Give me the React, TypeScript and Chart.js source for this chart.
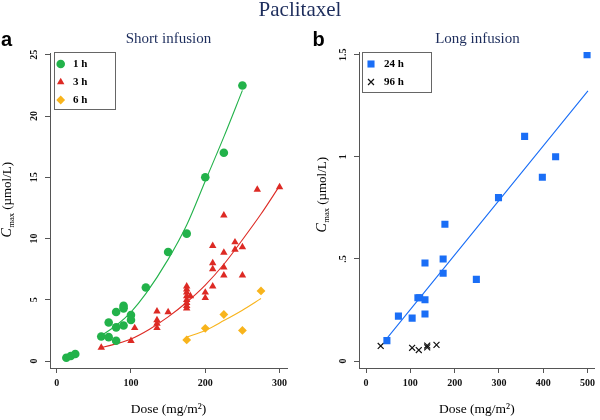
import React, { useEffect, useRef } from "react";
import { Chart, registerables } from "chart.js";
import { drawPoint } from "chart.js/helpers";
Chart.register(...registerables);

// ---------- text ----------
const mainTitle = "Paclitaxel";
const subtitleA = "Short infusion";
const subtitleB = "Long infusion";
const xTitle = "Dose (mg/m²)";

// ---------- panel a : short infusion ----------
const dose1h = [13, 19, 25, 60, 70, 70, 80, 80, 80, 90, 90, 90, 100, 100, 120, 150, 175, 200, 225, 250];
const cmax1h = [0.27, 0.41, 0.57, 2.0, 1.95, 3.15, 4.0, 2.75, 1.65, 4.5, 4.3, 2.9, 3.75, 3.35, 6.0, 8.9, 10.4, 15.0, 17.0, 22.5];

const dose3h = [60, 100, 105, 135, 135, 135, 135, 150, 175, 175, 175, 175, 175, 175, 175, 175, 180, 200, 200, 210, 210, 210, 210, 225, 225, 225, 225, 240, 240, 250, 250, 270, 300];
const cmax3h = [1.1, 1.65, 2.7, 4.05, 3.35, 3.05, 2.7, 4.0, 6.1, 5.85, 5.6, 5.3, 5.0, 4.75, 4.5, 4.3, 5.3, 5.6, 5.15, 9.4, 8.0, 7.5, 6.1, 11.9, 8.85, 7.65, 7.0, 9.7, 9.1, 9.3, 7.0, 14.0, 14.2];

const dose6h = [175, 200, 225, 250, 275];
const cmax6h = [1.72, 2.67, 3.8, 2.5, 5.72];

const fit1hDose = [58, 80, 100, 120, 150, 175, 200, 225, 250];
const fit1hCmax = [2.0, 2.9, 4.0, 5.5, 8.3, 11.1, 14.7, 18.3, 22.1];
const fit3hDose = [57, 80, 100, 125, 150, 175, 200, 225, 250, 275, 300];
const fit3hCmax = [1.05, 1.4, 1.8, 2.6, 3.6, 4.8, 6.2, 7.9, 9.9, 12.0, 14.3];
const fit6hDose = [175, 200, 225, 250, 275];
const fit6hCmax = [1.95, 2.5, 3.3, 4.15, 5.1];

const xTicksA = [0, 100, 200, 300];
const yTicksA = [0, 5, 10, 15, 20, 25];
const yTickLabelsA = ["0", "5", "10", "15", "20", "25"];

// ---------- panel b : long infusion ----------
const dose24h = [47, 73, 104, 117, 121, 133, 133, 133, 174, 174, 178, 249, 299, 358, 398, 428, 499];
const cmax24h = [0.10, 0.22, 0.21, 0.31, 0.31, 0.30, 0.23, 0.48, 0.50, 0.43, 0.67, 0.40, 0.80, 1.10, 0.90, 1.00, 1.50];
const dose96h = [33, 104, 119, 138, 138, 159];
const cmax96h = [0.074, 0.065, 0.054, 0.067, 0.076, 0.079];
const fit24hDose = [47, 501];
const fit24hCmax = [0.111, 1.323];

const xTicksB = [0, 100, 200, 300, 400, 500];
const yTicksB = [0, 0.5, 1, 1.5];
const yTickLabelsB = ["0", ".5", "1", "1.5"];

// ---------- styles ----------
const GREEN = "#22b24a";
const RED = "#dd2a24";
const ORANGE = "#f8b41c";
const BLUE = "#1a6ef6";
const NAVY = "#1d2d5c";
const AXIS = "#555555";
const SERIF = '"Liberation Serif", "Times New Roman", serif';
const SANS = '"Liberation Sans", Arial, sans-serif';

const pts = (xs: number[], ys: number[]) => xs.map((x, i) => ({ x, y: ys[i] }));

const decorPlugin = {
  id: "decor",
  afterDraw(chart: any, _args: any, opts: any) {
    const ctx = chart.ctx;
    // y axis title: C_max (µmol/L)
    ctx.save();
    ctx.translate(opts.yTitleX, opts.yTitleY);
    ctx.rotate(-Math.PI / 2);
    ctx.fillStyle = "#000";
    ctx.textAlign = "left";
    ctx.textBaseline = "alphabetic";
    const f1 = `italic 14px ${SERIF}`;
    const f2 = `8.5px ${SERIF}`;
    const f3 = `13px ${SERIF}`;
    ctx.font = f1;
    const w1 = ctx.measureText("C").width;
    ctx.font = f2;
    const w2 = ctx.measureText("max").width;
    ctx.font = f3;
    const t3 = " (µmol/L)";
    const w3 = ctx.measureText(t3).width;
    let x = -(w1 + w2 + w3) / 2;
    ctx.font = f1;
    ctx.fillText("C", x, 0);
    x += w1 + 0.5;
    ctx.font = f2;
    ctx.fillText("max", x, 3);
    x += w2;
    ctx.font = f3;
    ctx.fillText(t3, x, 0);
    ctx.restore();

    // legend box
    const lg = opts.legend;
    ctx.save();
    ctx.strokeStyle = "#666";
    ctx.lineWidth = 1;
    ctx.strokeRect(Math.round(lg.x) + 0.5, Math.round(lg.y) + 0.5, lg.w, lg.h);
    lg.items.forEach((it: any, i: number) => {
      const cy = lg.y + lg.firstDy + i * lg.rowH;
      ctx.fillStyle = it.color;
      ctx.strokeStyle = it.color;
      ctx.lineWidth = it.lw || 0;
      drawPoint(ctx, { pointStyle: it.style, radius: it.radius, borderWidth: it.lw || 0, rotation: 0 } as any, lg.x + lg.markerDx, cy);
      ctx.fillStyle = "#000";
      ctx.font = `bold 11px ${SERIF}`;
      ctx.textAlign = "left";
      ctx.textBaseline = "middle";
      ctx.fillText(it.label, lg.x + lg.textDx, cy + 0.5);
    });
    ctx.restore();
  },
};

function axisCommon(ticks: number[], labels: string[] | null, fit: (s: any) => void, extra: any) {
  return {
    type: "linear",
    afterBuildTicks: (s: any) => {
      s.ticks = ticks.map((v) => ({ value: v }));
    },
    afterFit: fit,
    grid: { display: true, drawOnChartArea: false, drawTicks: true, tickLength: 5, tickColor: AXIS, color: AXIS, lineWidth: 1 },
    border: { display: true, color: AXIS, width: 1 },
    ...extra,
    ticks: {
      color: "#111",
      font: { family: SERIF, size: 10, weight: "bold" },
      autoSkip: false,
      callback: (v: number) => {
        const i = ticks.indexOf(v);
        return labels && i >= 0 ? labels[i] : String(v);
      },
      ...(extra.ticks || {}),
    },
  };
}

function buildConfig(spec: any) {
  return {
    type: "scatter",
    data: { datasets: spec.datasets },
    options: {
      responsive: false,
      animation: false,
      events: [],
      layout: { padding: { left: 0, top: spec.top, right: spec.right, bottom: 0 } },
      plugins: {
        legend: { display: false },
        tooltip: { enabled: false },
        decor: spec.decor,
      },
      scales: {
        x: axisCommon(spec.xTicks, null, (s: any) => { s.height = 52; }, {
          min: spec.xMin,
          max: spec.xMax,
          title: { display: true, text: xTitle, color: "#000", font: { family: SERIF, size: 13.5 }, padding: { top: 0, bottom: 2.5 } },
          ticks: { padding: 4, maxRotation: 0, minRotation: 0 },
        }),
        y: axisCommon(spec.yTicks, spec.yLabels, (s: any) => { s.width = spec.yWidth; }, {
          min: spec.yMin,
          max: spec.yMax,
          ticks: { padding: spec.yPad, minRotation: 90, maxRotation: 90, crossAlign: "center" },
        }),
      },
    },
    plugins: [decorPlugin],
  };
}

const scatterDs = (label: string, xs: number[], ys: number[], style: string, color: string, radius: number, extra: any = {}) => ({
  label,
  data: pts(xs, ys),
  pointStyle: style,
  pointRadius: radius,
  pointBackgroundColor: color,
  pointBorderColor: color,
  pointBorderWidth: 0,
  showLine: false,
  order: 0,
  ...extra,
});

const fitDs = (xs: number[], ys: number[], color: string) => ({
  label: "fit",
  data: pts(xs, ys),
  showLine: true,
  pointRadius: 0,
  borderColor: color,
  borderWidth: 1.1,
  cubicInterpolationMode: "monotone",
  fill: false,
  order: 1,
});

const specA = {
  top: 53,
  right: 13,
  yWidth: 50,
  yPad: 6,
  xMin: -9,
  xMax: 310,
  yMin: -0.57,
  yMax: 25.15,
  xTicks: xTicksA,
  yTicks: yTicksA,
  yLabels: yTickLabelsA,
  datasets: [
    scatterDs("1 h", dose1h, cmax1h, "circle", GREEN, 4.3),
    scatterDs("3 h", dose3h, cmax3h, "triangle", RED, 4.3),
    scatterDs("6 h", dose6h, cmax6h, "rectRot", ORANGE, 4.4),
    fitDs(fit1hDose, fit1hCmax, GREEN),
    fitDs(fit3hDose, fit3hCmax, RED),
    fitDs(fit6hDose, fit6hCmax, ORANGE),
  ],
  decor: {
    yTitleX: 11,
    yTitleY: 200,
    legend: {
      x: 54, y: 52, w: 61, h: 57, firstDy: 12, rowH: 18, markerDx: 6.7, textDx: 19,
      items: [
        { label: "1 h", style: "circle", color: GREEN, radius: 4.3 },
        { label: "3 h", style: "triangle", color: RED, radius: 4.3 },
        { label: "6 h", style: "rectRot", color: ORANGE, radius: 4.4 },
      ],
    },
  },
};

const specB = {
  top: 52,
  right: 4,
  yWidth: 59,
  yPad: 4,
  xMin: -16,
  xMax: 516,
  yMin: -0.034,
  yMax: 1.513,
  xTicks: xTicksB,
  yTicks: yTicksB,
  yLabels: yTickLabelsB,
  datasets: [
    scatterDs("24 h", dose24h, cmax24h, "rect", BLUE, 5),
    scatterDs("96 h", dose96h, cmax96h, "crossRot", "#111", 4.2, { pointBorderWidth: 1.2, pointBackgroundColor: "rgba(0,0,0,0)" }),
    fitDs(fit24hDose, fit24hCmax, BLUE),
  ],
  decor: {
    yTitleX: 26,
    yTitleY: 195,
    legend: {
      x: 62, y: 52, w: 69, h: 40, firstDy: 12, rowH: 18, markerDx: 9, textDx: 22,
      items: [
        { label: "24 h", style: "rect", color: BLUE, radius: 5 },
        { label: "96 h", style: "crossRot", color: "#111", radius: 4.2, lw: 1.2 },
      ],
    },
  },
};

function Panel({ spec, left }: { spec: any; left: number }) {
  const ref = useRef<HTMLCanvasElement>(null);
  useEffect(() => {
    const chart = new Chart(ref.current as HTMLCanvasElement, buildConfig(spec) as any);
    return () => chart.destroy();
  }, []);
  return (
    <canvas
      ref={ref}
      width={300}
      height={420}
      style={{ position: "absolute", left, top: 0, width: 300, height: 420 }}
    />
  );
}

const textBase: React.CSSProperties = { position: "absolute", lineHeight: 1, whiteSpace: "nowrap", margin: 0 };

export default function App() {
  return (
    <div style={{ position: "fixed", left: 0, top: 0, width: 600, height: 420, background: "#fff", overflow: "hidden" }}>
      <Panel spec={specA} left={0} />
      <Panel spec={specB} left={300} />
      <div style={{ ...textBase, left: 0, width: 600, textAlign: "center", top: -0.9, fontFamily: SERIF, fontSize: 21, color: NAVY }}>{mainTitle}</div>
      <div style={{ ...textBase, left: 50, width: 237, textAlign: "center", top: 31.4, fontFamily: SERIF, fontSize: 15, color: NAVY }}>{subtitleA}</div>
      <div style={{ ...textBase, left: 359, width: 237, textAlign: "center", top: 31.4, fontFamily: SERIF, fontSize: 15, color: NAVY }}>{subtitleB}</div>
      <div style={{ ...textBase, left: 1, top: 28.8, fontFamily: SANS, fontSize: 20, fontWeight: "bold", color: "#000" }}>a</div>
      <div style={{ ...textBase, left: 312.5, top: 28.8, fontFamily: SANS, fontSize: 20, fontWeight: "bold", color: "#000" }}>b</div>
    </div>
  );
}
